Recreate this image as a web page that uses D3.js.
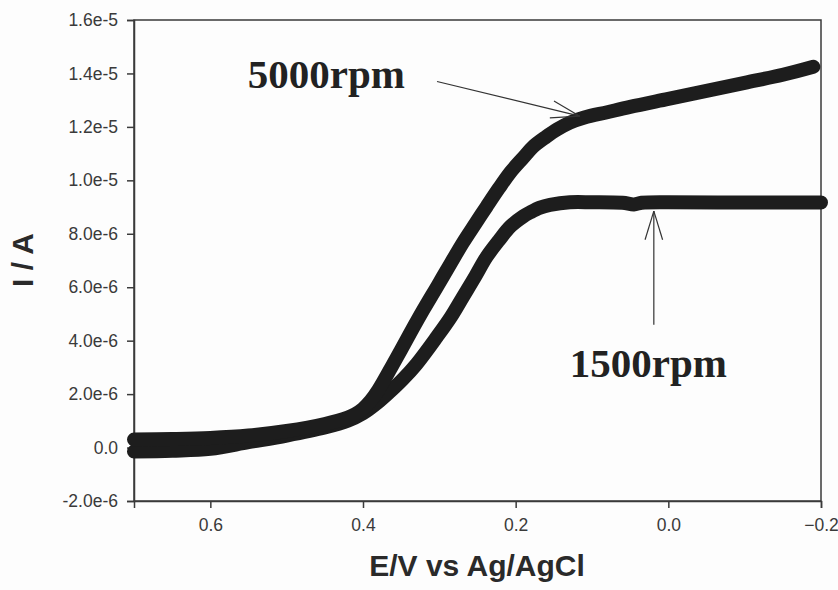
<!DOCTYPE html>
<html>
<head>
<meta charset="utf-8">
<script src="https://cdn.jsdelivr.net/npm/d3@7"></script>
<style>
  body { margin: 0; background: #fdfdfd; }
  svg { display: block; }
</style>
</head>
<body>
<div class="chart"></div>
<script>
// potential (V vs Ag/AgCl) and current (units of 1e-6 A)
var potential5000 = [0.70, 0.65, 0.60, 0.55, 0.50, 0.45, 0.42, 0.41, 0.40, 0.39, 0.38, 0.36, 0.338, 0.32, 0.303, 0.285, 0.269, 0.253, 0.238, 0.222, 0.207, 0.19, 0.177, 0.16, 0.146, 0.129, 0.11, 0.08, 0.05, 0.00, -0.05, -0.10, -0.15, -0.19];
var current5000 = [0.30, 0.32, 0.36, 0.45, 0.62, 0.88, 1.12, 1.25, 1.45, 1.75, 2.15, 3.15, 4.29, 5.20, 6.02, 6.90, 7.67, 8.37, 9.02, 9.70, 10.30, 10.85, 11.26, 11.63, 11.90, 12.16, 12.35, 12.55, 12.75, 13.05, 13.35, 13.65, 13.95, 14.25];

var potential1500 = [0.70, 0.65, 0.60, 0.55, 0.50, 0.45, 0.42, 0.40, 0.38, 0.365, 0.348, 0.33, 0.303, 0.285, 0.269, 0.253, 0.238, 0.222, 0.207, 0.19, 0.181, 0.168, 0.155, 0.129, 0.10, 0.06, 0.045, 0.035, 0.00, -0.10, -0.20];
var current1500 = [-0.15, -0.12, -0.05, 0.20, 0.45, 0.75, 1.00, 1.28, 1.70, 2.08, 2.55, 3.12, 4.15, 4.88, 5.64, 6.40, 7.14, 7.75, 8.27, 8.65, 8.80, 8.98, 9.08, 9.18, 9.18, 9.16, 9.10, 9.16, 9.18, 9.17, 9.17];

var xTicks = [0.6, 0.4, 0.2, 0.0, -0.2];
var yTicks = [-2e-6, 0, 2e-6, 4e-6, 6e-6, 8e-6, 1e-5, 1.2e-5, 1.4e-5, 1.6e-5];
var yTickLabels = ["-2.0e-6", "0.0", "2.0e-6", "4.0e-6", "6.0e-6", "8.0e-6", "1.0e-5", "1.2e-5", "1.4e-5", "1.6e-5"];

// labels: [text, E, I(1e-6)] ; arrows: [fromE, fromI, toE, toI]
var labels = [["5000rpm", 0.551, 13.47], ["1500rpm", 0.129, 2.64]];
var arrows = [[0.303, 13.7, 0.116, 12.4], [0.019, 4.6, 0.019, 8.85]];

var width = 838, height = 590;
var margin = {top: 20, right: 17, bottom: 89, left: 134};

var x = d3.scaleLinear().domain([0.7, -0.2]).range([margin.left, width - margin.right]);
var y = d3.scaleLinear().domain([-2e-6, 1.6e-5]).range([height - margin.bottom, margin.top]);

var svg = d3.select(".chart").append("svg")
    .attr("width", width)
    .attr("height", height);

var axisColor = "#3a3a3a";

// frame
svg.append("rect")
    .attr("x", margin.left)
    .attr("y", margin.top)
    .attr("width", width - margin.right - margin.left)
    .attr("height", height - margin.bottom - margin.top)
    .attr("fill", "none")
    .attr("stroke", axisColor)
    .attr("stroke-width", 1.5);

var xAxis = svg.append("g")
    .attr("transform", "translate(0," + (height - margin.bottom) + ")")
    .call(d3.axisBottom(x).tickValues(xTicks).tickSize(7).tickPadding(11).tickFormat(d3.format(".1f")));

var yAxis = svg.append("g")
    .attr("transform", "translate(" + margin.left + ",0)")
    .call(d3.axisLeft(y).tickValues(yTicks).tickSize(7).tickPadding(9)
      .tickFormat(function(d, i) { return yTickLabels[i]; }));

[xAxis, yAxis].forEach(function(a) {
  a.select(".domain").attr("stroke", axisColor).attr("stroke-width", 1.5);
  a.selectAll(".tick line").attr("stroke", axisColor).attr("stroke-width", 1.5);
  a.selectAll(".tick text")
    .attr("fill", "#3a3a3a")
    .style("font-family", "Arial, 'Liberation Sans', sans-serif")
    .style("font-size", "17.5px");
});

// axis titles
svg.append("text")
    .attr("x", 477)
    .attr("y", 576)
    .attr("text-anchor", "middle")
    .style("font-family", "Arial, 'Liberation Sans', sans-serif")
    .style("font-weight", "bold")
    .style("font-size", "30px")
    .attr("fill", "#2a2a2a")
    .text("E/V vs Ag/AgCl");

svg.append("text")
    .attr("transform", "translate(33,260) rotate(-90)")
    .attr("text-anchor", "middle")
    .style("font-family", "Arial, 'Liberation Sans', sans-serif")
    .style("font-weight", "bold")
    .style("font-size", "30px")
    .attr("fill", "#2a2a2a")
    .text("I / A");

// curves
var line = d3.line()
    .x(function(d) { return x(d[0]); })
    .y(function(d) { return y(d[1] * 1e-6); })
    .curve(d3.curveCatmullRom);

var series = [
  potential1500.map(function(e, i) { return [e, current1500[i]]; }),
  potential5000.map(function(e, i) { return [e, current5000[i]]; })
];

svg.selectAll(".curve")
    .data(series)
    .enter().append("path")
    .attr("class", "curve")
    .attr("d", line)
    .attr("fill", "none")
    .attr("stroke", "#1d1d1d")
    .attr("stroke-width", 14)
    .attr("stroke-linecap", "round")
    .attr("stroke-linejoin", "round");

// annotations
svg.selectAll(".label")
    .data(labels)
    .enter().append("text")
    .attr("class", "label")
    .attr("x", function(d) { return x(d[1]); })
    .attr("y", function(d) { return y(d[2] * 1e-6); })
    .style("font-family", "'Times New Roman', 'Liberation Serif', serif")
    .style("font-weight", "bold")
    .style("font-size", "41px")
    .attr("fill", "#222")
    .text(function(d) { return d[0]; });

arrows.forEach(function(a) {
  var x1 = x(a[0]), y1 = y(a[1] * 1e-6), x2 = x(a[2]), y2 = y(a[3] * 1e-6);
  var ang = Math.atan2(y2 - y1, x2 - x1);
  var len = 30, spread = 17 * Math.PI / 180;
  var g = svg.append("g").attr("stroke", "#333").attr("stroke-width", 1.2);
  g.append("line").attr("x1", x1).attr("y1", y1).attr("x2", x2).attr("y2", y2);
  [-spread, spread].forEach(function(s) {
    g.append("line")
      .attr("x1", x2).attr("y1", y2)
      .attr("x2", x2 - len * Math.cos(ang + s))
      .attr("y2", y2 - len * Math.sin(ang + s));
  });
});
</script>
</body>
</html>
